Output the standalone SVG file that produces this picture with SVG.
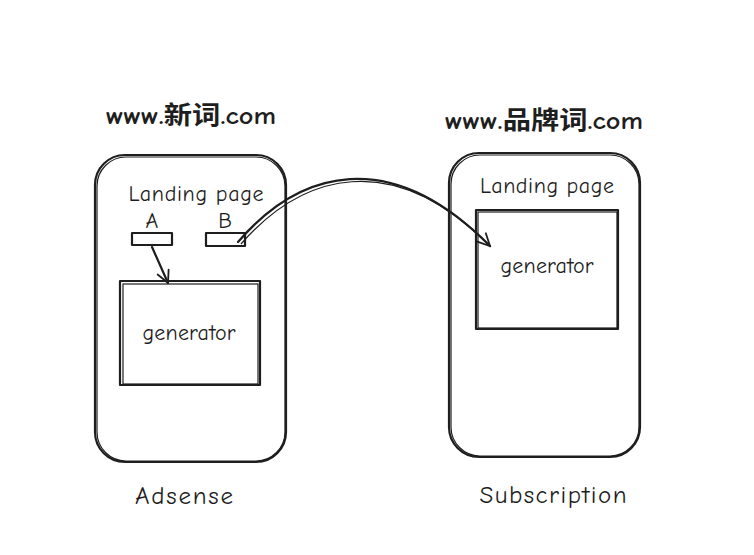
<svg xmlns="http://www.w3.org/2000/svg" width="754" height="555" viewBox="0 0 754 555">
<defs>
<style>
.box{fill:none;stroke:#1e1e1e;stroke-width:2.2;stroke-linejoin:round}
.thin{fill:none;stroke:#1e1e1e;stroke-width:1.2}
.t{font-family:"Comic Neue","Noto Sans","Noto Sans CJK SC",sans-serif;fill:#1e1e1e;text-anchor:middle}
.title{font-size:25px;font-weight:bold}
.lab{font-size:22px}
.big{font-size:25px}
.con{fill:none;stroke:#1e1e1e;stroke-width:2.2;stroke-linecap:round}
</style>
<marker id="ah" viewBox="0 0 20 20" refX="18" refY="10" markerWidth="15" markerHeight="15" orient="auto" markerUnits="userSpaceOnUse">
<path d="M2 2 L18 10 L2 18" fill="none" stroke="#1e1e1e" stroke-width="2.4" stroke-linecap="round"/>
</marker>
</defs>
<rect width="754" height="555" fill="#ffffff"/>

<g id="left-site">
<text class="t title" x="191" y="124" textLength="170" lengthAdjust="spacingAndGlyphs">www.新词.com</text>
<rect class="box" x="95" y="155" width="191" height="307" rx="30"/>
<rect class="thin" x="97" y="157" width="188" height="304" rx="29"/>
<text class="t lab" x="196" y="201" textLength="135" lengthAdjust="spacing">Landing page</text>
<text class="t lab" x="152" y="228">A</text>
<text class="t lab" x="225" y="228">B</text>
</g>
<g id="box-a">
<rect class="box" x="132" y="233" width="40" height="12"/>
</g>
<g id="box-b">
<rect class="box" x="206" y="233" width="39" height="13"/>
</g>
<g id="left-generator">
<rect class="box" x="120" y="281" width="140" height="104"/>
<rect class="thin" x="123" y="284" width="135" height="100"/>
<text class="t lab" x="189" y="340" textLength="93" lengthAdjust="spacing">generator</text>
</g>

<g id="right-site">
<text class="t title" x="544" y="129" textLength="198" lengthAdjust="spacingAndGlyphs">www.品牌词.com</text>
<rect class="box" x="449" y="153" width="191" height="304" rx="30"/>
<rect class="thin" x="451" y="155" width="188" height="301" rx="29"/>
<text class="t lab" x="547" y="193" textLength="134" lengthAdjust="spacing">Landing page</text>
</g>
<g id="right-generator">
<rect class="box" x="476" y="210" width="142" height="119"/>
<rect class="thin" x="478" y="212" width="139" height="116"/>
<text class="t lab" x="547" y="273" textLength="93" lengthAdjust="spacing">generator</text>
</g>

<g id="left-labels">
<text class="t big" x="184" y="504" textLength="98" lengthAdjust="spacing">Adsense</text>
</g>
<g id="right-labels">
<text class="t big" x="553" y="503" textLength="147" lengthAdjust="spacing">Subscription</text>
</g>

<g id="connectors">
<path class="con" d="M152 247 L168 283" marker-end="url(#ah)"/>
<path class="con" d="M238 242 C300 170 390 145 490 246" marker-end="url(#ah)"/>
<path class="thin" d="M241 244 C303 173 392 149 488 244"/>
</g>
</svg>
